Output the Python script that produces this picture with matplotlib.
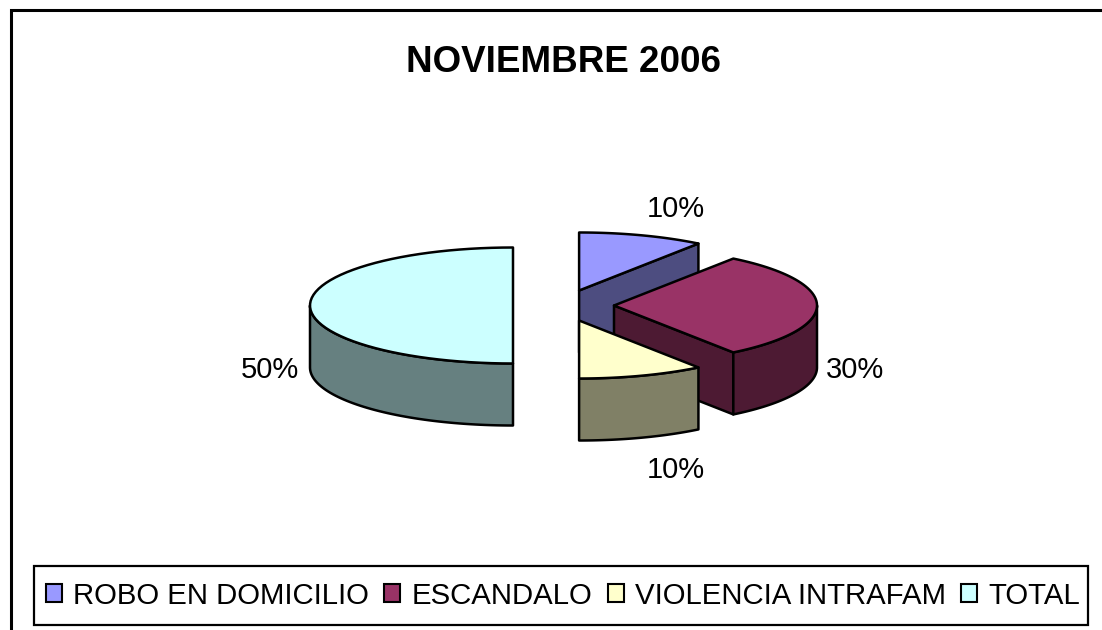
import numpy as np
import matplotlib
matplotlib.use("Agg")
import matplotlib.pyplot as plt
from matplotlib.patches import Polygon, Rectangle, Patch

plt.rcParams['font.family'] = ['Liberation Sans', 'DejaVu Sans']

title = "NOVIEMBRE 2006"
categories = ["ROBO EN DOMICILIO", "ESCANDALO", "VIOLENCIA INTRAFAM", "TOTAL"]
values = [10, 30, 10, 50]
top_colors = ["#9999FF", "#993366", "#FFFFCC", "#CCFFFF"]
side_colors = ["#4D4D80", "#4D1A33", "#808066", "#668080"]
label_xy = [(676, 209), (855, 370), (676, 470), (270, 370)]

W, H = 1102, 630
BX, BY, RX, RY, DEPTH, EXPLODE = 563.5, 305.5, 203, 58, 62, 50.5
EXPLODE_Y = 0.3125
LW = 1.8

fig = plt.figure(figsize=(W / 100, H / 100), dpi=100, facecolor="white")
ax = fig.add_axes([0, 0, 1, 1])
ax.set_xlim(0, W)
ax.set_ylim(H, 0)
ax.axis("off")

# chart frame (only top and left edges fall inside the picture)
ax.plot([11, 11, W], [H, 9.5, 9.5], color="black", lw=2.2, solid_joinstyle="miter")

ax.text(563, 62, title, ha="center", va="center", fontsize=26.5, fontweight="bold", color="black")


def rim(cx, cy, a, b, n=60):
    t = np.radians(np.linspace(a, b, n))
    return np.column_stack([cx + RX * np.sin(t), cy - RY * np.cos(t)])


def poly(pts, color, z):
    ax.add_patch(Polygon(pts, closed=True, facecolor=color, edgecolor="black",
                         lw=LW, joinstyle="round", zorder=z))


total = sum(values)
start = 0.0
for i, v in enumerate(values):
    end = start + 360.0 * v / total
    mid = np.radians((start + end) / 2)
    cx = BX + EXPLODE * np.sin(mid)
    cy = BY - EXPLODE * np.cos(mid) * EXPLODE_Y
    z = 2 + i
    centre = np.array([cx, cy])
    down = np.array([0, DEPTH])
    # cut faces toward the viewer
    for ang, visible in ((end, np.sin(np.radians(end)) > 1e-6),
                         (start, np.sin(np.radians(start)) < -1e-6)):
        if visible:
            p = rim(cx, cy, ang, ang, 1)[0]
            poly([centre, p, p + down, centre + down], side_colors[i], z)
    # outer wall: the part of the rim in the front half
    a, b = max(start, 90), min(end, 270)
    if b > a:
        r = rim(cx, cy, a, b)
        poly(np.vstack([r, (r + down)[::-1]]), side_colors[i], z)
    # top surface
    poly(np.vstack([centre, rim(cx, cy, start, end)]), top_colors[i], z + 0.5)
    lx, ly = label_xy[i]
    ax.text(lx, ly, f"{100 * v / total:.0f}%", ha="center", va="center", fontsize=21, color="black", zorder=10)
    start = end

# legend box
ax.add_patch(Rectangle((34, 566), 1054, 59, facecolor="white", edgecolor="black", lw=1.6, zorder=11))
handles = [Patch(facecolor=c, edgecolor="black", lw=1.5) for c in top_colors]
leg = ax.legend(handles, categories, ncol=4, loc="center left",
                bbox_to_anchor=(34, 595.5), bbox_transform=ax.transData,
                borderaxespad=0, fontsize=21.15, frameon=False,
                handlelength=0.55, handleheight=0.55,
                handletextpad=0.38, columnspacing=0.52, borderpad=0.4)
leg.set_zorder(12)

fig.savefig("out.png", dpi=100, facecolor="white")
